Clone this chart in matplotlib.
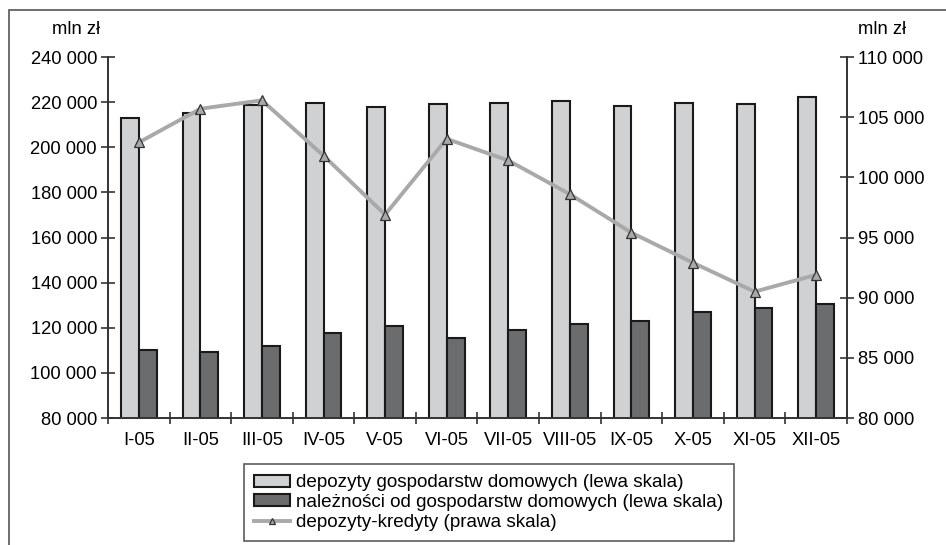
import numpy as np
import matplotlib.pyplot as plt
from matplotlib.patches import Rectangle, Patch
from matplotlib.lines import Line2D
from matplotlib.ticker import FuncFormatter, FixedLocator

plt.rcParams['font.family'] = ['Liberation Sans', 'DejaVu Sans']

months = ['I-05', 'II-05', 'III-05', 'IV-05', 'V-05', 'VI-05',
          'VII-05', 'VIII-05', 'IX-05', 'X-05', 'XI-05', 'XII-05']
deposits = [213100, 215000, 218600, 219800, 217700, 219000,
            219800, 220500, 218400, 219800, 219000, 222400]
loans = [110100, 109400, 112000, 117500, 120800, 115500,
         118900, 121700, 122900, 126900, 128900, 130400]
diff = [102900, 105700, 106400, 101800, 96900, 103200,
        101400, 98600, 95400, 92900, 90500, 91900]

fs = 13.2

fig = plt.figure(figsize=(9.46, 5.45), dpi=100)
ax = fig.add_axes([0.1142, 0.2330, 0.7811, 0.6624])
ax2 = ax.twinx()

x = np.arange(len(months))
w = 0.29
ax.bar(x - w / 2, deposits, w, color='#d0d1d3', edgecolor='#1a1a1a', linewidth=1.5, zorder=2)
ax.bar(x + w / 2, loans, w, color='#6b6c6e', edgecolor='#1a1a1a', linewidth=1.5, zorder=2)
ax2.plot(x, diff, color='#a9a9a9', linewidth=2.8, marker='^', markersize=7,
         markerfacecolor='#a9a9a9', markeredgecolor='#333333', markeredgewidth=0.9)

fmt = FuncFormatter(lambda v, p: f'{int(v):,}'.replace(',', ' '))
ax.set_ylim(80000, 240000)
ax.set_yticks(np.arange(80000, 240001, 20000))
ax.yaxis.set_major_formatter(fmt)
ax2.set_ylim(80000, 110000)
ax2.set_yticks(np.arange(80000, 110001, 5000))
ax2.yaxis.set_major_formatter(fmt)

ax.set_xlim(-0.5, len(months) - 0.5)
ax.set_xticks(x)
ax.set_xticklabels(months)
ax.xaxis.set_minor_locator(FixedLocator(np.arange(-0.5, len(months), 1.0)))
ax.tick_params(axis='x', which='major', length=0, labelsize=fs, pad=10)
ax.tick_params(axis='x', which='minor', direction='inout', length=9, width=1.2, color='#333333')
ax.tick_params(axis='y', direction='inout', length=10, width=1.2, labelsize=fs, color='#333333', pad=3)
ax2.tick_params(axis='y', direction='inout', length=10, width=1.2, labelsize=fs, color='#333333', pad=3)

for a in (ax, ax2):
    a.spines['top'].set_visible(False)
    for s in ('left', 'right', 'bottom'):
        a.spines[s].set_color('#333333')
        a.spines[s].set_linewidth(1.2)

fig.text(0.055, 0.945, 'mln zł', fontsize=fs, ha='left', va='center')
fig.text(0.907, 0.945, 'mln zł', fontsize=fs, ha='left', va='center')

# outer frame (only top and left edges visible)
fig.patches.append(Rectangle((0.0095, -0.05), 1.05, 1.032, transform=fig.transFigure,
                             fill=False, edgecolor='#555555', linewidth=1.2))

handles = [Patch(facecolor='#d0d1d3', edgecolor='#1a1a1a', linewidth=1.5),
           Patch(facecolor='#6b6c6e', edgecolor='#1a1a1a', linewidth=1.5),
           Line2D([], [], color='#a9a9a9', linewidth=2.8, marker='^', markersize=5,
                  markerfacecolor='#a9a9a9', markeredgecolor='#333333', markeredgewidth=0.9)]
labels = ['depozyty gospodarstw domowych (lewa skala)',
          'należności od gospodarstw domowych (lewa skala)',
          'depozyty-kredyty (prawa skala)']
leg = fig.legend(handles, labels, loc='upper left', bbox_to_anchor=(0.258, 0.149),
                 fontsize=13.6, frameon=True, fancybox=False, edgecolor='#333333',
                 handlelength=1.9, handleheight=0.6, handletextpad=0.3,
                 labelspacing=0.15, borderpad=0.55, borderaxespad=0)
leg.get_frame().set_linewidth(1.2)

fig.savefig('out.png', dpi=100)
